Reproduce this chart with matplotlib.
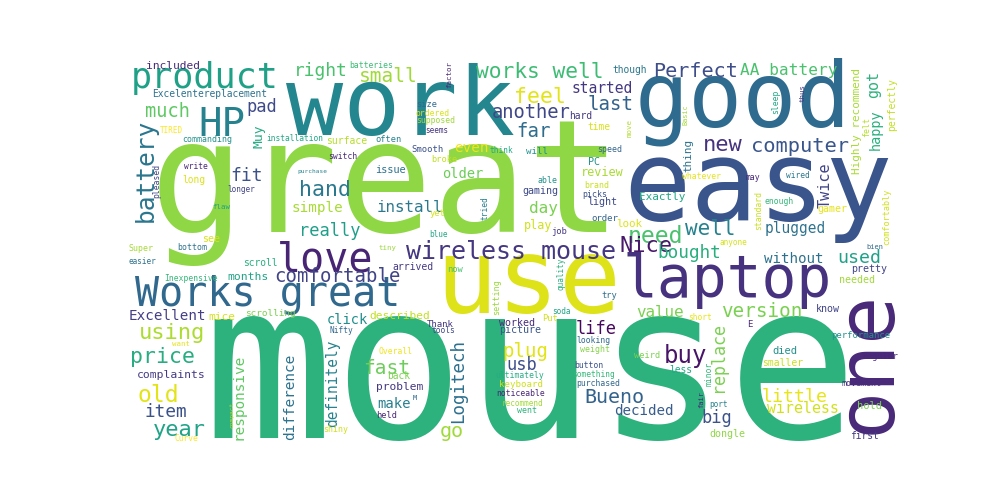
import matplotlib
matplotlib.use("Agg")
import matplotlib.pyplot as plt

# word weights, given as font size in pixels of the rendered cloud
word_sizes = {
    "mouse": 218, "great": 157, "easy": 112, "use": 103, "work": 95, "good": 90,
    "one": 80, "laptop": 58, "Works great": 40, "love": 40, "HP": 39, "product": 35,
    "wireless mouse": 25, "battery": 24.5, "buy": 24, "need": 23, "old": 23,
    "using": 22, "new": 22, "year": 22, "Nice": 22, "hand": 21.5, "feel": 21.5,
    "price": 21.5, "works well": 21.3, "well": 21, "computer": 20.4, "Perfect": 20.2,
    "Bueno": 20, "go": 20, "small": 19.5, "fast": 19.5, "version": 19.3, "comfortable": 19,
    "far": 19, "last": 19, "plug": 19, "another": 18.8, "much": 18.7, "little": 18.3,
    "used": 18.3, "fit": 18, "right": 17.9, "item": 17.8, "bought": 17.7, "Logitech": 17.5,
    "really": 17, "pad": 17, "usb": 17, "big": 17, "life": 17, "replace": 16.6,
    "AA battery": 16.1, "day": 16, "value": 15.9, "install": 15.9, "Twice": 15.2,
    "got": 15, "wireless": 14.9, "started": 14.6, "plugged": 14.5, "definitely": 14.5,
    "responsive": 14.4, "difference": 14.4, "simple": 14.3, "even": 14.3, "Excellent": 14.2,
    "without": 14.1, "decided": 14.1, "make": 13.9, "click": 13.8, "older": 13.8,
    "happy": 13.5, "Muy": 13, "review": 11.7, "play": 11.7, "months": 11.4,
    "complaints": 11.4, "included": 11.3, "mice": 11.3, "described": 11.3, "problem": 11.2,
    "Highly recommend": 11, "Exactly": 11, "thing": 11, "look": 10.9, "died": 10.4,
    "hold": 10.4, "issue": 10.3, "see": 10, "worked": 10, "picture": 10, "know": 10,
    "dongle": 10, "gaming": 10, "light": 10, "gamer": 10, "pretty": 10, "needed": 10,
    "PC": 10, "perfectly": 9.8, "surface": 9.8, "arrived": 9.8, "smaller": 9.8,
    "though": 9.7, "scroll": 9.7, "first": 9.7, "Excelentereplacement": 9.6, "long": 9.6,
    "back": 9.6, "less": 9.6, "hard": 9.6, "time": 9.6, "scrolling": 9.4, "keyboard": 9.1,
    "will": 9.1, "Thank": 9, "order": 9, "E": 9, "performance": 8.9, "Smooth": 8.9,
    "Put": 8.8, "yet": 8.8, "job": 8.8, "now": 8.8, "try": 8.8, "held": 8.7,
    "size": 8.7, "weird": 8.6, "often": 8.6, "broke": 8.6, "comfortably": 8.5,
    "setting": 8.5, "Regular": 8.5, "commanding": 8.3, "Super": 8.3, "bottom": 8.3,
    "shiny": 8.3, "weight": 8.3, "went": 8.3, "able": 8.3, "brand": 8.3, "picks": 8.3,
    "speed": 8.3, "felt": 8.3, "movement": 8.3, "sleep": 8.2, "may": 8.2, "batteries": 8.1,
    "purchased": 8.1, "supposed": 8.1, "whatever": 8.1, "standard": 8.1, "switch": 8,
    "Inexpensive": 8, "looking": 8, "Overall": 8, "ultimately": 8, "noticeable": 8,
    "button": 8, "ordered": 8, "enough": 8, "pleased": 8, "minor": 8, "installation": 7.9,
    "write": 7.9, "Nifty": 7.9, "Curve": 7.9, "tools": 7.9, "something": 7.9, "short": 7.9,
    "think": 7.9, "wired": 7.9, "tried": 7.9, "quality": 7.8, "soda": 7.8, "port": 7.8,
    "blue": 7.8, "longer": 7.7, "easier": 7.7, "recommend": 7.7, "anyone": 7.7,
    "TIRED": 7.6, "seems": 7.6, "factor": 7.5, "flaw": 7.4, "want": 7.4, "tiny": 7.4,
    "move": 7.4, "thus": 7.4, "M": 7, "bien": 7, "fair": 7, "Basic": 6.9,
    "purchase": 6.2, "compact": 6.1,
}

# placement in figure pixels: (x centre, baseline y, vertical)
# vertical words: (baseline x, centre y, True)
placements = {
    "mouse": (531, 438, False), "great": (386, 232, False), "easy": (758, 220, False),
    "use": (528, 313, False), "work": (400, 135, False), "good": (743, 127, False),
    "one": (890, 362, True), "laptop": (727, 297, False), "Works great": (268, 306, False),
    "love": (325, 272, False), "HP": (222, 136, False), "product": (205, 88, False),
    "wireless mouse": (511, 259, False), "battery": (153, 170, True), "buy": (685, 363, False),
    "need": (655, 243, False), "old": (158, 402, False), "using": (172, 339, False),
    "new": (723, 151, False), "year": (179, 436, False), "Nice": (646, 252, False),
    "hand": (325, 196, False), "feel": (540, 103, False), "price": (163, 363, False),
    "works well": (540, 78, False), "well": (710, 235, False), "computer": (800, 152, False),
    "Perfect": (696, 77, False), "Bueno": (614, 403, False), "go": (452, 437, False),
    "small": (388, 82, False), "fast": (387, 374, False), "version": (762, 317, False),
    "comfortable": (338, 282, False), "far": (533, 137, False), "last": (610, 110, False),
    "plug": (525, 357, False), "another": (531, 118, False), "much": (168, 117, False),
    "little": (795, 402, False), "used": (859, 263, False), "fit": (247, 181, False),
    "right": (321, 76, False), "item": (166, 417, False), "bought": (689, 258, False),
    "Logitech": (463, 381, True), "really": (330, 236, False), "pad": (262, 112, False),
    "usb": (522, 370, False), "big": (717, 423, False), "life": (596, 334, False),
    "replace": (723, 357, True), "AA battery": (789, 75, False), "day": (543, 213, False),
    "value": (660, 317, False), "install": (410, 212, False), "Twice": (830, 185, True),
    "got": (878, 85, True), "wireless": (803, 413, False), "started": (602, 93, False),
    "plugged": (795, 233, False), "definitely": (337, 383, True), "responsive": (243, 397, True),
    "difference": (294, 397, True), "simple": (317, 212, False), "even": (471, 152, False),
    "Excellent": (167, 320, False), "without": (794, 263, False), "decided": (644, 415, False),
    "make": (394, 408, False), "click": (347, 324, False), "older": (463, 178, False),
    "happy": (880, 130, True), "Muy": (262, 136, True), "review": (602, 176, False),
    "play": (538, 229, False), "months": (248, 280, False), "complaints": (171, 378, False),
    "included": (173, 69, False), "mice": (222, 320, False), "described": (400, 319, False),
    "problem": (400, 390, False), "Highly recommend": (860, 121, True),
    "Exactly": (662, 200, False), "thing": (691, 155, True), "look": (629, 227, False),
    "died": (785, 354, False), "hold": (870, 409, False), "issue": (390, 173, False),
    "see": (211, 242, False), "worked": (517, 326, False), "picture": (520, 333, False),
    "know": (828, 312, False), "dongle": (727, 437, False), "gaming": (540, 194, False),
    "light": (602, 205, False), "gamer": (832, 212, False), "pretty": (869, 272, False),
    "needed": (857, 283, False), "PC": (594, 165, False), "perfectly": (895, 105, True),
    "surface": (347, 144, False), "arrived": (413, 270, False), "smaller": (783, 366, False),
    "though": (630, 73, False), "scroll": (260, 266, False), "first": (864, 439, False),
    "Excelentereplacement": (210, 97, False), "long": (194, 183, False),
    "back": (399, 379, False), "less": (681, 373, False), "hard": (581, 119, False),
    "time": (599, 130, False), "scrolling": (270, 316, False), "keyboard": (521, 387, False),
    "will": (537, 154, False), "Thank": (440, 327, False), "order": (605, 221, False),
    "E": (750, 327, False), "performance": (861, 338, False), "Smooth": (427, 152, False),
    "Put": (550, 321, False), "yet": (437, 216, False), "job": (559, 234, False),
    "now": (455, 272, False), "try": (609, 298, False), "held": (387, 418, False),
    "size": (427, 107, False), "weird": (647, 358, False), "often": (389, 142, False),
    "broke": (444, 162, False), "comfortably": (889, 217, True), "setting": (499, 297, True),
    "Regular": (880, 359, False), "commanding": (207, 142, False), "Super": (141, 251, False),
    "bottom": (192, 250, False), "shiny": (336, 432, False), "weight": (595, 352, False),
    "went": (527, 413, False), "able": (547, 183, False), "brand": (597, 188, False),
    "picks": (595, 197, False), "speed": (610, 152, False), "felt": (869, 127, True),
    "movement": (862, 386, False), "sleep": (778, 102, True), "may": (753, 180, False),
    "batteries": (371, 68, False), "purchased": (598, 386, False), "supposed": (436, 123, False),
    "whatever": (701, 179, False), "standard": (761, 211, True), "switch": (343, 159, False),
    "Inexpensive": (191, 281, False), "looking": (593, 343, False), "Overall": (396, 354, False),
    "ultimately": (520, 378, False), "noticeable": (521, 396, False), "button": (589, 368, False),
    "ordered": (433, 116, False), "enough": (779, 204, False), "pleased": (159, 181, True),
    "minor": (712, 374, True), "installation": (295, 141, False), "write": (196, 169, False),
    "Nifty": (341, 333, False), "Curve": (186, 441, False), "tools": (443, 333, False),
    "something": (594, 377, False), "short": (700, 320, False), "think": (501, 153, False),
    "wired": (798, 178, False), "tried": (488, 208, True), "quality": (563, 274, True),
    "soda": (561, 314, False), "port": (719, 407, False), "blue": (439, 237, False),
    "longer": (241, 192, False), "easier": (142, 264, False), "recommend": (522, 406, False),
    "anyone": (733, 245, False), "TIRED": (171, 133, False), "seems": (437, 133, False),
    "factor": (451, 75, True), "flaw": (221, 209, False), "want": (181, 346, False),
    "tiny": (388, 250, False), "move": (632, 128, True), "thus": (805, 93, True),
    "M": (415, 400, False), "bien": (875, 249, False), "fair": (703, 400, True),
    "Basic": (688, 115, True), "purchase": (312, 173, False), "compact": (233, 415, True),
}

word_colors = {
    "mouse": "#2db27d", "great": "#8fd744", "easy": "#3a548c", "use": "#dde318",
    "work": "#24868e", "good": "#2f6b8e", "one": "#482878", "laptop": "#46327e",
    "Works great": "#31688e", "love": "#482475", "HP": "#26828e", "product": "#1fa187",
    "wireless mouse": "#453781", "battery": "#2a768e", "buy": "#481467", "need": "#4ac16d",
    "old": "#e2e418", "using": "#addc30", "new": "#46337e", "year": "#20a386",
    "Nice": "#48186a", "hand": "#2a788e", "feel": "#e2e418", "price": "#27ad81",
    "works well": "#3dbc74", "well": "#26828e", "computer": "#39568c", "Perfect": "#3d4e8a",
    "Bueno": "#33638d", "go": "#a0da39", "small": "#a0da39", "fast": "#6ccd5a",
    "version": "#7ad151", "comfortable": "#414487", "far": "#2e6d8e", "last": "#33638d",
    "plug": "#e2e418", "another": "#3f4788", "much": "#5ec962", "little": "#e7e419",
    "used": "#1fa188", "fit": "#3b528b", "right": "#4ac16d", "item": "#3b528b",
    "bought": "#29af7f", "Logitech": "#2d708e", "really": "#1f9e89", "pad": "#3e4a89",
    "usb": "#3d4e8a", "big": "#3b528b", "life": "#46085c", "replace": "#7ad151",
    "AA battery": "#4ac16d", "day": "#7ad151", "value": "#7ad151", "install": "#2a788e",
    "Twice": "#414487", "got": "#2db27d", "wireless": "#d0e11c", "started": "#453882",
    "plugged": "#2c728e", "definitely": "#26818e", "responsive": "#5ec962",
    "difference": "#2c728e", "simple": "#a8db34", "even": "#f0e51c", "Excellent": "#433e85",
    "without": "#2c728e", "decided": "#365d8d", "make": "#277f8e", "click": "#218f8d",
    "older": "#6ccd5a", "happy": "#29af7f", "Muy": "#25ab82", "review": "#a8db34",
    "play": "#d0e11c", "months": "#20a386", "complaints": "#443a83", "included": "#472c7a",
    "mice": "#d5e21a", "described": "#c2df23", "problem": "#453882",
    "Highly recommend": "#a8db34", "Exactly": "#22a884", "thing": "#2c728e",
    "look": "#dde318", "died": "#21918c", "hold": "#7ad151", "issue": "#2c728e",
    "see": "#d8e219", "worked": "#472d7b", "picture": "#39558c", "know": "#414487",
    "dongle": "#8fd744", "gaming": "#3e4a89", "light": "#3e4a89", "gamer": "#e7e419",
    "pretty": "#414487", "needed": "#a0da39", "PC": "#21918c", "perfectly": "#c2df23",
    "surface": "#b5de2b", "arrived": "#443983", "smaller": "#c8e020", "though": "#2a788e",
    "scroll": "#29af7f", "first": "#443983", "Excelentereplacement": "#2c728e",
    "long": "#dde318", "back": "#7fd34e", "less": "#22a884", "hard": "#443983",
    "time": "#d8e219", "scrolling": "#7ad151", "keyboard": "#cde11d", "will": "#21918c",
    "Thank": "#453781", "order": "#33638d", "E": "#48287a", "performance": "#21918c",
    "Smooth": "#3b528b", "Put": "#d2e21b", "yet": "#d5e21a", "job": "#443983",
    "now": "#4ac16d", "try": "#2e6e8e", "held": "#482878", "size": "#31688e",
    "weird": "#7ad151", "often": "#26828e", "broke": "#c2df23", "comfortably": "#d0e11c",
    "setting": "#9bd93c", "Regular": "#482878", "commanding": "#21918c", "Super": "#a5db36",
    "bottom": "#2c728e", "shiny": "#d0e11c", "weight": "#86d549", "went": "#2fb47c",
    "able": "#21918c", "brand": "#c8e020", "picks": "#3b528b", "speed": "#33638d",
    "felt": "#b5de2b", "movement": "#472d7b", "sleep": "#22a884", "may": "#482878",
    "batteries": "#3dbc74", "purchased": "#31688e", "supposed": "#9fda3a",
    "whatever": "#e7e419", "standard": "#c8e020", "switch": "#482878",
    "Inexpensive": "#35b779", "looking": "#31688e", "Overall": "#f0e51c",
    "ultimately": "#25ac82", "noticeable": "#482677", "button": "#3b528b",
    "ordered": "#d8e219", "enough": "#35b779", "pleased": "#414487", "minor": "#35b779",
    "installation": "#22a884", "write": "#482878", "Nifty": "#31688e", "Curve": "#fde725",
    "tools": "#3e4989", "something": "#35b779", "short": "#e7e419", "think": "#22a884",
    "wired": "#2a788e", "tried": "#26828e", "quality": "#2ab07f", "soda": "#20a486",
    "port": "#26828e", "blue": "#22a884", "longer": "#414487", "easier": "#2d708e",
    "recommend": "#a2da37", "anyone": "#d5e21a", "TIRED": "#fde725", "seems": "#46337e",
    "factor": "#482475", "flaw": "#20a386", "want": "#e5e419", "tiny": "#9bd93c",
    "move": "#b0dd2f", "thus": "#443983", "M": "#31688e", "bien": "#31688e",
    "fair": "#482677", "Basic": "#a2da37", "purchase": "#26828e", "compact": "#b8de29",
}

DPI = 100

fig = plt.figure(figsize=(10, 5), dpi=DPI)
ax = fig.add_axes([0, 0, 1, 1])
ax.set_xlim(0, 1000)
ax.set_ylim(500, 0)
ax.axis("off")

for word, size in word_sizes.items():
    x, y, vertical = placements[word]
    ax.text(x, y, word, fontsize=size * 72 / DPI,
            family="DejaVu Sans Mono", color=word_colors[word],
            ha="center", va="baseline",
            rotation=90 if vertical else 0, rotation_mode="anchor")

fig.savefig("out.png", dpi=DPI, facecolor="white")
